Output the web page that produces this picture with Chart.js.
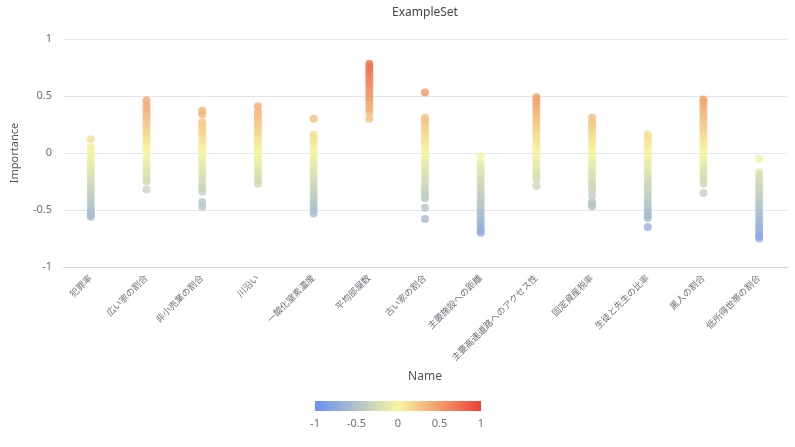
<!DOCTYPE html>
<html>
<head>
<meta charset="utf-8">
<script src="https://cdn.jsdelivr.net/npm/chart.js@4.4.1/dist/chart.umd.min.js"></script>
<style>
  html, body { margin: 0; padding: 0; background: #fff; }
</style>
</head>
<body>
<canvas id="chart" width="795" height="447"></canvas>
<script>
// categories (x axis)
const names = [
  '犯罪率', '広い家の割合', '非小売業の割合', '川沿い', '一酸化窒素濃度',
  '平均部屋数', '古い家の割合', '主要施設への距離', '主要高速道路へのアクセス性',
  '固定資産税率', '生徒と先生の比率', '黒人の割合', '低所得世帯の割合'
];

// importance values per category
const crimeRate = [0.12, 0.05, 0.02, -0.01, -0.04, -0.07, -0.10, -0.13, -0.16, -0.19, -0.22, -0.25, -0.28, -0.31, -0.34, -0.37, -0.40, -0.43, -0.46, -0.49, -0.52, -0.54, -0.56];
const largeLots = [0.46, 0.42, 0.39, 0.36, 0.33, 0.30, 0.27, 0.24, 0.21, 0.18, 0.15, 0.12, 0.09, 0.06, 0.03, 0.00, -0.03, -0.06, -0.09, -0.12, -0.15, -0.18, -0.22, -0.25, -0.32];
const nonRetail = [0.37, 0.34, 0.27, 0.24, 0.21, 0.18, 0.15, 0.12, 0.09, 0.06, 0.03, 0.00, -0.03, -0.06, -0.09, -0.12, -0.15, -0.18, -0.21, -0.24, -0.28, -0.31, -0.34, -0.43, -0.47];
const riverside = [0.41, 0.36, 0.33, 0.30, 0.27, 0.24, 0.21, 0.18, 0.15, 0.12, 0.09, 0.06, 0.03, 0.00, -0.03, -0.06, -0.09, -0.12, -0.15, -0.18, -0.21, -0.24, -0.27];
const nox = [0.30, 0.16, 0.13, 0.10, 0.07, 0.04, 0.01, -0.02, -0.05, -0.08, -0.11, -0.14, -0.17, -0.20, -0.23, -0.26, -0.29, -0.32, -0.35, -0.38, -0.41, -0.44, -0.47, -0.50, -0.53];
const rooms = [0.78, 0.75, 0.72, 0.69, 0.66, 0.63, 0.60, 0.57, 0.54, 0.51, 0.48, 0.45, 0.42, 0.39, 0.36, 0.30];
const oldHouses = [0.53, 0.31, 0.28, 0.25, 0.22, 0.19, 0.16, 0.13, 0.10, 0.07, 0.04, 0.01, -0.02, -0.05, -0.08, -0.11, -0.14, -0.17, -0.20, -0.23, -0.26, -0.30, -0.32, -0.35, -0.38, -0.40, -0.48, -0.58];
const facilityDist = [-0.03, -0.09, -0.12, -0.15, -0.18, -0.21, -0.24, -0.27, -0.30, -0.33, -0.36, -0.39, -0.42, -0.45, -0.48, -0.51, -0.54, -0.57, -0.60, -0.63, -0.66, -0.68, -0.70];
const highway = [0.49, 0.46, 0.43, 0.40, 0.37, 0.34, 0.31, 0.28, 0.25, 0.22, 0.19, 0.16, 0.13, 0.10, 0.07, 0.04, 0.01, -0.02, -0.05, -0.08, -0.11, -0.14, -0.17, -0.20, -0.23, -0.29];
const taxRate = [0.31, 0.27, 0.25, 0.22, 0.19, 0.16, 0.13, 0.10, 0.07, 0.04, 0.01, -0.02, -0.05, -0.08, -0.11, -0.14, -0.17, -0.20, -0.23, -0.26, -0.29, -0.32, -0.37, -0.43, -0.45, -0.47];
const ptRatio = [0.16, 0.13, 0.10, 0.07, 0.04, 0.01, -0.02, -0.05, -0.08, -0.11, -0.14, -0.17, -0.20, -0.23, -0.26, -0.29, -0.32, -0.35, -0.38, -0.41, -0.44, -0.47, -0.50, -0.53, -0.55, -0.57, -0.65];
const blackRatio = [0.47, 0.45, 0.42, 0.39, 0.36, 0.33, 0.30, 0.27, 0.24, 0.21, 0.18, 0.15, 0.12, 0.09, 0.06, 0.03, 0.00, -0.03, -0.06, -0.09, -0.12, -0.15, -0.18, -0.21, -0.24, -0.27, -0.35];
const lowIncome = [-0.05, -0.17, -0.20, -0.23, -0.26, -0.29, -0.32, -0.35, -0.38, -0.41, -0.44, -0.47, -0.50, -0.53, -0.56, -0.59, -0.62, -0.65, -0.68, -0.71, -0.73, -0.75];

const importance = [crimeRate, largeLots, nonRetail, riverside, nox, rooms, oldHouses,
  facilityDist, highway, taxRate, ptRatio, blackRatio, lowIncome];

// y axis + visual map range
const yTicks = [-1, -0.5, 0, 0.5, 1];
const legendTicks = [-1, -0.5, 0, 0.5, 1];

// visual map colours: -1 blue, 0 yellow, 1 red
const colorStops = [
  [-1, [106, 142, 245]],
  [0, [246, 246, 160]],
  [1, [238, 64, 54]]
];

function colorFor(v, alpha) {
  let a = colorStops[0], b = colorStops[colorStops.length - 1];
  for (let i = 0; i < colorStops.length - 1; i++) {
    if (v >= colorStops[i][0] && v <= colorStops[i + 1][0]) { a = colorStops[i]; b = colorStops[i + 1]; break; }
  }
  const t = Math.max(0, Math.min(1, (v - a[0]) / (b[0] - a[0])));
  const c = a[1].map((x, k) => Math.round(x + (b[1][k] - x) * t));
  return `rgba(${c[0]},${c[1]},${c[2]},${alpha})`;
}

const points = names.flatMap((n, i) => importance[i].map(v => ({ x: n, y: v })));

const FONT = "'Noto Sans', 'Noto Sans CJK JP', sans-serif";
const GREY = '#6e7079';

// horizontal colour bar under the chart
const colorBar = {
  id: 'colorBar',
  afterDraw(chart) {
    const ctx = chart.ctx;
    const w = 166, h = 10;
    const x0 = Math.round(chart.width / 2 - w / 2);
    const y0 = 401;
    const g = ctx.createLinearGradient(x0, 0, x0 + w, 0);
    colorStops.forEach(s => g.addColorStop((s[0] + 1) / 2, colorFor(s[0], 1)));
    ctx.save();
    ctx.fillStyle = g;
    ctx.fillRect(x0, y0, w, h);
    ctx.font = '11px ' + FONT;
    ctx.fillStyle = GREY;
    ctx.textAlign = 'center';
    ctx.textBaseline = 'middle';
    legendTicks.forEach(v => {
      ctx.fillText(String(v), x0 + (v + 1) / 2 * w, y0 + h + 13);
    });
    ctx.restore();
  }
};

new Chart(document.getElementById('chart'), {
  type: 'scatter',
  data: {
    labels: names,
    datasets: [{
      data: points,
      pointRadius: 4,
      pointHoverRadius: 4,
      borderWidth: 0,
      backgroundColor: c => c.raw ? colorFor(c.raw.y, 0.8) : 'transparent'
    }]
  },
  options: {
    responsive: false,
    animation: false,
    layout: { padding: { top: 0, left: 0, right: 8, bottom: 60 } },
    plugins: {
      legend: { display: false },
      tooltip: { enabled: false },
      title: {
        display: true,
        text: 'ExampleSet',
        fullSize: false,
        color: '#464646',
        font: { family: FONT, size: 12, weight: 'normal' },
        padding: { top: 5, bottom: 19.6 }
      }
    },
    scales: {
      x: {
        type: 'category',
        labels: names,
        offset: true,
        grid: { display: true, drawOnChartArea: false, drawTicks: false },
        border: { color: '#d3d7e8' },
        ticks: {
          minRotation: 45, maxRotation: 45, padding: 6, autoSkip: false,
          color: GREY, font: { family: FONT, size: 9 }
        },
        title: {
          display: true, text: 'Name', color: '#555',
          font: { family: FONT, size: 12 }, padding: { top: 0, bottom: 3 }
        },
        afterFit: s => { s.height = 120; }
      },
      y: {
        min: -1, max: 1,
        afterBuildTicks: s => { s.ticks = yTicks.map(v => ({ value: v })); },
        grid: { color: '#e0e6f1', drawTicks: false },
        border: { display: false },
        ticks: {
          padding: 11, color: GREY, font: { family: FONT, size: 11 },
          callback: v => String(v)
        },
        title: {
          display: true, text: 'Importance', color: '#555',
          font: { family: FONT, size: 11 }, padding: { top: 8, bottom: 0 }
        },
        afterFit: s => { s.width = 63; }
      }
    }
  },
  plugins: [colorBar]
});
</script>
</body>
</html>
